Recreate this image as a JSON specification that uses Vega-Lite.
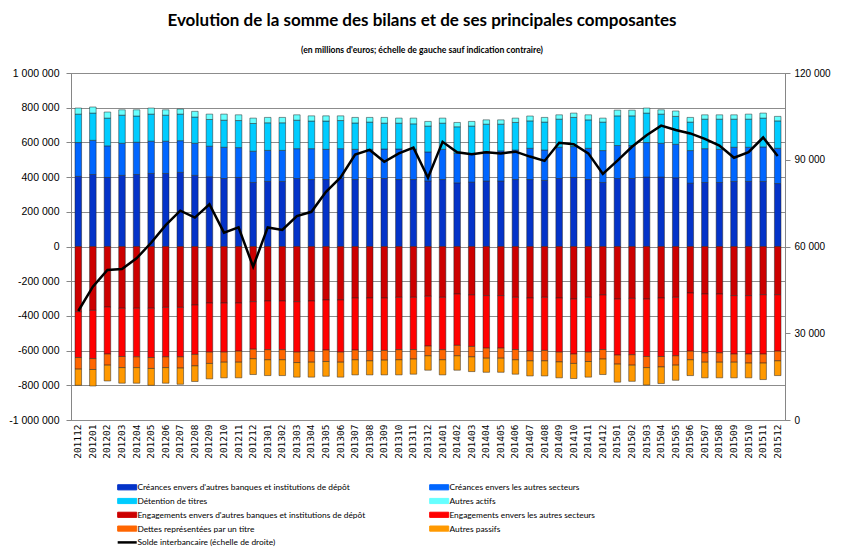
{
  "$schema": "https://vega.github.io/schema/vega-lite/v6.json",
  "width": 714,
  "height": 347,
  "autosize": {"type": "none"},
  "padding": {"left": 71, "top": 73, "right": 60, "bottom": 138},
  "background": "white",
  "title": {
    "text": "Evolution de la somme des bilans et de ses principales composantes",
    "subtitle": "(en millions d'euros; échelle de gauche sauf indication contraire)",
    "anchor": "middle", "frame": "group", "dx": -6, "offset": 12,
    "font": "Lato", "fontSize": 17, "fontWeight": "bold", "color": "#000",
    "subtitleFont": "Lato", "subtitleFontSize": 8.6, "subtitleFontWeight": "bold", "subtitleColor": "#000", "subtitlePadding": 16
  },
  "datasets": {
    "series": [
      {"k": "a", "rank": 1, "label": "Créances envers d'autres banques et institutions de dépôt"},
      {"k": "b", "rank": 2, "label": "Créances envers les autres secteurs"},
      {"k": "c", "rank": 3, "label": "Détention de titres"},
      {"k": "d", "rank": 4, "label": "Autres actifs"},
      {"k": "e", "rank": 5, "label": "Engagements envers d'autres banques et institutions de dépôt"},
      {"k": "f", "rank": 6, "label": "Engagements envers les autres secteurs"},
      {"k": "g", "rank": 7, "label": "Dettes représentées par un titre"},
      {"k": "h", "rank": 8, "label": "Autres passifs"}
    ]
  },
  "data": {"values": [
    {"period": "201112", "a": 404000, "b": 195000, "c": 164000, "d": 35000, "e": -376000, "f": -264000, "g": -67000, "h": -93000, "s": 37700},
    {"period": "201201", "a": 415000, "b": 197000, "c": 157000, "d": 35000, "e": -368000, "f": -278000, "g": -63000, "h": -95000, "s": 46100},
    {"period": "201202", "a": 398000, "b": 182000, "c": 160000, "d": 35000, "e": -349000, "f": -271000, "g": -64000, "h": -91000, "s": 51900},
    {"period": "201203", "a": 410000, "b": 185000, "c": 162000, "d": 31000, "e": -356000, "f": -278000, "g": -64000, "h": -90000, "s": 52200},
    {"period": "201204", "a": 415000, "b": 186000, "c": 151000, "d": 36000, "e": -356000, "f": -280000, "g": -62000, "h": -90000, "s": 55900},
    {"period": "201205", "a": 421000, "b": 186000, "c": 156000, "d": 35000, "e": -356000, "f": -284000, "g": -63000, "h": -97000, "s": 61300},
    {"period": "201206", "a": 421000, "b": 186000, "c": 150000, "d": 31000, "e": -351000, "f": -285000, "g": -62000, "h": -90000, "s": 67400},
    {"period": "201207", "a": 427000, "b": 183000, "c": 153000, "d": 29000, "e": -351000, "f": -285000, "g": -65000, "h": -93000, "s": 72400},
    {"period": "201208", "a": 410000, "b": 185000, "c": 151000, "d": 33000, "e": -337000, "f": -285000, "g": -66000, "h": -90000, "s": 70000},
    {"period": "201209", "a": 402000, "b": 176000, "c": 154000, "d": 31000, "e": -326000, "f": -283000, "g": -65000, "h": -89000, "s": 74600},
    {"period": "201210", "a": 392000, "b": 180000, "c": 156000, "d": 35000, "e": -326000, "f": -283000, "g": -58000, "h": -90000, "s": 64800},
    {"period": "201211", "a": 398000, "b": 172000, "c": 156000, "d": 33000, "e": -326000, "f": -277000, "g": -64000, "h": -90000, "s": 66600},
    {"period": "201212", "a": 369000, "b": 180000, "c": 160000, "d": 31000, "e": -318000, "f": -274000, "g": -55000, "h": -91000, "s": 53000},
    {"period": "201301", "a": 375000, "b": 179000, "c": 159000, "d": 31000, "e": -314000, "f": -281000, "g": -58000, "h": -91000, "s": 66600},
    {"period": "201302", "a": 375000, "b": 179000, "c": 159000, "d": 31000, "e": -314000, "f": -281000, "g": -58000, "h": -91000, "s": 65700},
    {"period": "201303", "a": 392000, "b": 172000, "c": 164000, "d": 31000, "e": -318000, "f": -291000, "g": -60000, "h": -84000, "s": 70500},
    {"period": "201304", "a": 386000, "b": 178000, "c": 159000, "d": 30000, "e": -314000, "f": -289000, "g": -64000, "h": -86000, "s": 72000},
    {"period": "201305", "a": 386000, "b": 174000, "c": 163000, "d": 30000, "e": -308000, "f": -289000, "g": -66000, "h": -85000, "s": 78900},
    {"period": "201306", "a": 392000, "b": 172000, "c": 162000, "d": 27000, "e": -308000, "f": -301000, "g": -58000, "h": -86000, "s": 83900},
    {"period": "201307", "a": 386000, "b": 174000, "c": 152000, "d": 32000, "e": -297000, "f": -300000, "g": -56000, "h": -87000, "s": 91800},
    {"period": "201308", "a": 392000, "b": 168000, "c": 157000, "d": 27000, "e": -297000, "f": -304000, "g": -58000, "h": -81000, "s": 93400},
    {"period": "201309", "a": 392000, "b": 170000, "c": 149000, "d": 33000, "e": -297000, "f": -302000, "g": -56000, "h": -85000, "s": 89300},
    {"period": "201310", "a": 386000, "b": 176000, "c": 149000, "d": 29000, "e": -293000, "f": -302000, "g": -58000, "h": -87000, "s": 92200},
    {"period": "201311", "a": 386000, "b": 174000, "c": 147000, "d": 33000, "e": -293000, "f": -301000, "g": -55000, "h": -87000, "s": 94200},
    {"period": "201312", "a": 377000, "b": 168000, "c": 149000, "d": 27000, "e": -287000, "f": -287000, "g": -56000, "h": -83000, "s": 83800},
    {"period": "201401", "a": 386000, "b": 174000, "c": 151000, "d": 29000, "e": -293000, "f": -302000, "g": -58000, "h": -87000, "s": 96200},
    {"period": "201402", "a": 367000, "b": 170000, "c": 153000, "d": 25000, "e": -274000, "f": -296000, "g": -60000, "h": -83000, "s": 92600},
    {"period": "201403", "a": 371000, "b": 162000, "c": 161000, "d": 27000, "e": -279000, "f": -297000, "g": -60000, "h": -85000, "s": 91900},
    {"period": "201404", "a": 377000, "b": 170000, "c": 158000, "d": 25000, "e": -283000, "f": -303000, "g": -58000, "h": -81000, "s": 92600},
    {"period": "201405", "a": 377000, "b": 174000, "c": 154000, "d": 25000, "e": -283000, "f": -303000, "g": -58000, "h": -81000, "s": 92200},
    {"period": "201406", "a": 386000, "b": 170000, "c": 159000, "d": 25000, "e": -293000, "f": -301000, "g": -59000, "h": -83000, "s": 92800},
    {"period": "201407", "a": 386000, "b": 180000, "c": 158000, "d": 28000, "e": -297000, "f": -306000, "g": -56000, "h": -87000, "s": 91100},
    {"period": "201408", "a": 381000, "b": 175000, "c": 161000, "d": 27000, "e": -293000, "f": -306000, "g": -60000, "h": -87000, "s": 89600},
    {"period": "201409", "a": 392000, "b": 180000, "c": 162000, "d": 25000, "e": -297000, "f": -312000, "g": -56000, "h": -92000, "s": 95900},
    {"period": "201410", "a": 398000, "b": 178000, "c": 168000, "d": 25000, "e": -303000, "f": -317000, "g": -54000, "h": -87000, "s": 95400},
    {"period": "201411", "a": 386000, "b": 180000, "c": 164000, "d": 29000, "e": -293000, "f": -316000, "g": -54000, "h": -90000, "s": 92200},
    {"period": "201412", "a": 369000, "b": 184000, "c": 164000, "d": 23000, "e": -279000, "f": -315000, "g": -55000, "h": -89000, "s": 85100},
    {"period": "201501", "a": 392000, "b": 190000, "c": 171000, "d": 33000, "e": -303000, "f": -323000, "g": -52000, "h": -104000, "s": 89700},
    {"period": "201502", "a": 392000, "b": 190000, "c": 171000, "d": 33000, "e": -299000, "f": -325000, "g": -60000, "h": -93000, "s": 94500},
    {"period": "201503", "a": 400000, "b": 199000, "c": 170000, "d": 29000, "e": -303000, "f": -331000, "g": -64000, "h": -100000, "s": 98500},
    {"period": "201504", "a": 400000, "b": 195000, "c": 168000, "d": 25000, "e": -297000, "f": -337000, "g": -60000, "h": -96000, "s": 101800},
    {"period": "201505", "a": 396000, "b": 193000, "c": 161000, "d": 31000, "e": -293000, "f": -337000, "g": -54000, "h": -87000, "s": 100300},
    {"period": "201506", "a": 365000, "b": 188000, "c": 164000, "d": 27000, "e": -268000, "f": -335000, "g": -50000, "h": -91000, "s": 99100},
    {"period": "201507", "a": 369000, "b": 195000, "c": 170000, "d": 25000, "e": -274000, "f": -339000, "g": -54000, "h": -90000, "s": 97200},
    {"period": "201508", "a": 369000, "b": 191000, "c": 174000, "d": 25000, "e": -274000, "f": -339000, "g": -54000, "h": -90000, "s": 94900},
    {"period": "201509", "a": 375000, "b": 197000, "c": 162000, "d": 25000, "e": -283000, "f": -337000, "g": -47000, "h": -90000, "s": 90700},
    {"period": "201510", "a": 375000, "b": 197000, "c": 162000, "d": 29000, "e": -283000, "f": -337000, "g": -52000, "h": -85000, "s": 92600},
    {"period": "201511", "a": 375000, "b": 199000, "c": 166000, "d": 29000, "e": -278000, "f": -342000, "g": -52000, "h": -95000, "s": 97700},
    {"period": "201512", "a": 363000, "b": 203000, "c": 158000, "d": 26000, "e": -278000, "f": -325000, "g": -56000, "h": -85000, "s": 91300}
  ]},
  "layer": [
    {
      "transform": [
        {"fold": ["a", "b", "c", "d", "e", "f", "g", "h"], "as": ["k", "value"]},
        {"lookup": "k", "from": {"data": {"name": "series"}, "key": "k", "fields": ["label", "rank"]}}
      ],
      "mark": {"type": "bar", "stroke": "#222", "strokeWidth": 0.7, "strokeOpacity": 0.7},
      "encoding": {
        "x": {
          "field": "period", "type": "ordinal",
          "scale": {"paddingInner": 0.55, "paddingOuter": 0.275},
          "axis": {"title": null, "labelAngle": -90, "labelFont": "DejaVu Sans Mono", "labelFontSize": 9.5, "labelColor": "#000", "ticks": false, "domain": false, "labelPadding": 4}
        },
        "y": {
          "field": "value", "type": "quantitative", "stack": "zero",
          "scale": {"domain": [-1000000, 1000000], "nice": false},
          "axis": {"title": null, "values": [-1000000, -800000, -600000, -400000, -200000, 0, 200000, 400000, 600000, 800000, 1000000], "format": ",d", "grid": true, "gridColor": "#8c8c8c", "tickSize": 5, "tickColor": "#868686", "domainColor": "#868686", "labelPadding": 7, "labelFont": "Liberation Sans", "labelFontSize": 10.5, "labelColor": "#000"}
        },
        "color": {
          "field": "label", "type": "nominal",
          "scale": {
            "domain": ["Créances envers d'autres banques et institutions de dépôt", "Créances envers les autres secteurs", "Détention de titres", "Autres actifs", "Engagements envers d'autres banques et institutions de dépôt", "Engagements envers les autres secteurs", "Dettes représentées par un titre", "Autres passifs", "Solde interbancaire (échelle de droite)"],
            "range": ["#0433C8", "#0066FF", "#00CCFF", "#66FFFF", "#CC0000", "#FF0000", "#FF6600", "#FF9900", "#000000"]
          },
          "legend": {
            "title": null, "orient": "none", "legendX": 52, "legendY": 410, "direction": "horizontal", "columns": 2, "columnPadding": 61, "rowPadding": 3.8,
            "symbolSize": 185, "symbolType": "M-1.4,-0.38H1.4V0.38H-1.4Z", "symbolStrokeColor": "#333", "symbolStrokeWidth": 1,
            "labelFont": "Lato", "labelFontSize": 8.4, "labelColor": "#000", "labelLimit": 400, "labelOffset": 6,
            "encode": {
              "symbols": {
                "update": {
                  "shape": {"signal": "datum.value === 'Solde interbancaire (échelle de droite)' ? 'M-1.4,0H1.4' : 'M-1.4,-0.38H1.4V0.38H-1.4Z'"},
                  "fill": {"signal": "datum.value === 'Solde interbancaire (échelle de droite)' ? 'transparent' : scale('color', datum.value)"},
                  "stroke": {"signal": "datum.value === 'Solde interbancaire (échelle de droite)' ? '#000' : '#333'"},
                  "strokeWidth": {"signal": "datum.value === 'Solde interbancaire (échelle de droite)' ? 2.5 : 1"}
                }
              }
            }
          }
        },
        "order": {"field": "rank", "type": "quantitative", "sort": "ascending"}
      }
    },
    {
      "mark": {"type": "line", "strokeWidth": 2.5},
      "encoding": {
        "x": {"field": "period", "type": "ordinal"},
        "y": {
          "field": "s", "type": "quantitative",
          "scale": {"domain": [0, 120000], "nice": false},
          "axis": {"orient": "right", "title": null, "values": [0, 30000, 60000, 90000, 120000], "format": ",d", "grid": false, "tickSize": 5, "tickColor": "#868686", "domainColor": "#868686", "labelPadding": 4, "labelFont": "Liberation Sans", "labelFontSize": 10, "labelColor": "#000"}
        },
        "color": {"datum": "Solde interbancaire (échelle de droite)", "type": "nominal"}
      }
    }
  ],
  "resolve": {"scale": {"y": "independent"}},
  "config": {
    "locale": {"number": {"decimal": ",", "thousands": " ", "grouping": [3], "currency": ["", " €"], "minus": "-"}},
    "view": {"stroke": "#868686", "strokeWidth": 1}
  }
}
